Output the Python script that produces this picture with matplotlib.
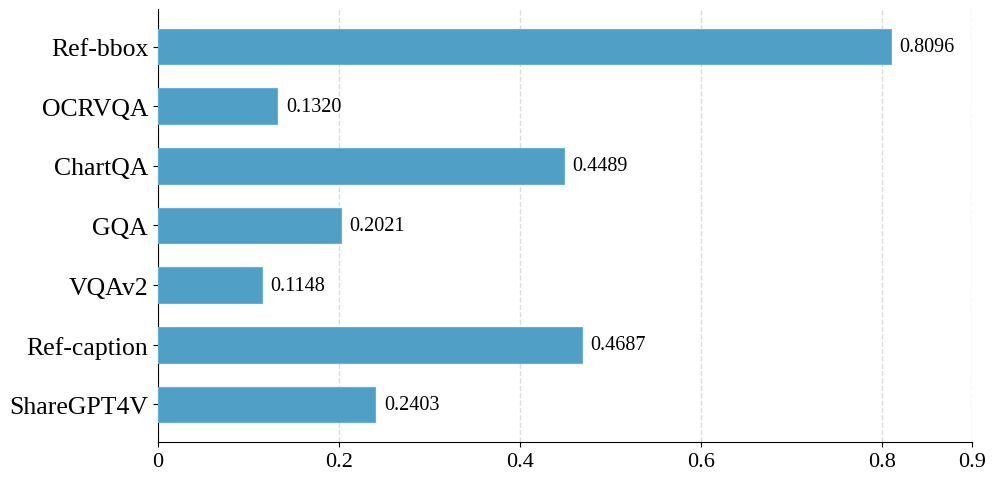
import matplotlib.pyplot as plt

plt.rcParams['font.family'] = ['Liberation Serif', 'DejaVu Serif']

# data (top to bottom as shown)
datasets = ['Ref-bbox', 'OCRVQA', 'ChartQA', 'GQA', 'VQAv2', 'Ref-caption', 'ShareGPT4V']
scores = [0.8096, 0.1320, 0.4489, 0.2021, 0.1148, 0.4687, 0.2403]
xticks = [0, 0.2, 0.4, 0.6, 0.8, 0.9]

fig = plt.figure(figsize=(9.96, 4.85), dpi=100)
ax = fig.add_axes([0.1586, 0.0866, 0.8178, 0.8928])

ypos = list(range(len(datasets)))[::-1]
bars = ax.barh(ypos, scores, height=0.6, color='#4f9fc7', edgecolor='#6ab0d4',
               linewidth=0.8, zorder=3)

for y, v in zip(ypos, scores):
    ax.annotate(f'{v:.4f}', xy=(v, y), xytext=(6, 0), textcoords='offset points',
                va='center', ha='left', fontsize=14.5)

ax.set_yticks(ypos)
ax.set_yticklabels(datasets, fontsize=18.5)
ax.set_xticks(xticks)
ax.set_xticklabels([f'{t:g}' for t in xticks], fontsize=16)
ax.set_xlim(0, 0.9)

ax.grid(axis='x', linestyle='--', color='#dddddd', linewidth=1, zorder=0)
ax.spines['top'].set_visible(False)
ax.spines['right'].set_visible(False)

fig.savefig('out.png', dpi=100)
